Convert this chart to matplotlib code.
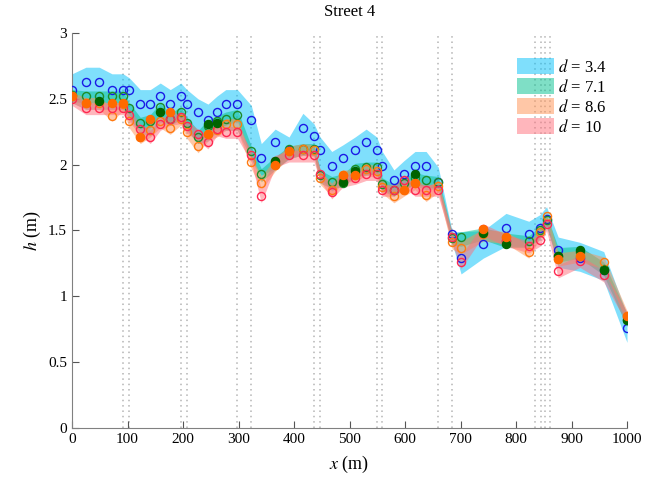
import matplotlib
matplotlib.use('Agg')
import matplotlib.pyplot as plt
import numpy as np
from matplotlib.ticker import FuncFormatter

plt.rcParams['font.family'] = ['Liberation Serif', 'DejaVu Serif']
plt.rcParams['mathtext.fontset'] = 'stix'

# %% data
x = [0, 25, 49, 72, 92, 103, 123, 141, 159, 177, 196, 207, 227, 245, 261, 277, 298, 323,
     341, 366, 391, 416, 436, 447, 468, 488, 510, 530, 549, 559, 580, 598, 618, 638, 660,
     685, 701, 741, 782, 823, 843, 855, 876, 915, 958, 1000]

# intersections (dotted lines)
x_cross = [92, 103, 196, 207, 298, 323, 436, 447, 549, 559, 660, 685, 835, 845, 852, 861]

labels = ['3.4', '7.1', '8.6', '10']

h_d34 = [2.57, 2.63, 2.63, 2.57, 2.57, 2.57, 2.46, 2.46, 2.52, 2.46, 2.52, 2.46, 2.40, 2.34,
         2.40, 2.46, 2.46, 2.34, 2.05, 2.17, 2.11, 2.28, 2.22, 2.11, 1.99, 2.05, 2.11, 2.17,
         2.11, 1.99, 1.88, 1.93, 1.99, 1.99, 1.87, 1.47, 1.29, 1.40, 1.52, 1.47, 1.52, 1.59,
         1.35, 1.29, 1.20, 0.76]
h_d71 = [2.53, 2.52, 2.52, 2.52, 2.52, 2.43, 2.32, 2.33, 2.44, 2.35, 2.40, 2.32, 2.21, 2.29,
         2.33, 2.35, 2.38, 2.10, 1.93, 2.01, 2.12, 2.12, 2.12, 1.92, 1.87, 1.86, 1.97, 1.98,
         1.98, 1.85, 1.81, 1.86, 1.90, 1.88, 1.87, 1.44, 1.45, 1.49, 1.42, 1.42, 1.50, 1.58,
         1.31, 1.34, 1.21, 0.82]
h_d86 = [2.52, 2.47, 2.47, 2.37, 2.46, 2.33, 2.21, 2.26, 2.33, 2.28, 2.35, 2.25, 2.14, 2.23,
         2.26, 2.31, 2.31, 2.02, 1.86, 2.00, 2.10, 2.12, 2.11, 1.90, 1.81, 1.92, 1.92, 1.97,
         1.95, 1.83, 1.76, 1.81, 1.86, 1.77, 1.84, 1.41, 1.37, 1.47, 1.45, 1.34, 1.49, 1.61,
         1.28, 1.31, 1.26, 0.85]
h_d10 = [2.50, 2.43, 2.43, 2.43, 2.43, 2.38, 2.27, 2.21, 2.31, 2.35, 2.36, 2.29, 2.23, 2.17,
         2.27, 2.25, 2.25, 2.07, 1.76, 2.03, 2.07, 2.07, 2.07, 1.93, 1.79, 1.88, 1.90, 1.93,
         1.93, 1.81, 1.81, 1.88, 1.81, 1.81, 1.81, 1.45, 1.26, 1.51, 1.43, 1.38, 1.43, 1.55,
         1.19, 1.27, 1.16, 0.84]

# envelopes
hi_d34 = [2.69, 2.74, 2.74, 2.69, 2.69, 2.66, 2.57, 2.57, 2.62, 2.57, 2.62, 2.57, 2.50, 2.46,
          2.52, 2.57, 2.57, 2.45, 2.16, 2.27, 2.21, 2.39, 2.31, 2.21, 2.10, 2.15, 2.21, 2.27,
          2.21, 2.10, 1.96, 2.03, 2.10, 2.10, 1.98, 1.49, 1.49, 1.50, 1.63, 1.57, 1.62, 1.68,
          1.45, 1.41, 1.34, 0.86]
lo_d34 = [2.47, 2.42, 2.42, 2.42, 2.42, 2.35, 2.24, 2.22, 2.32, 2.30, 2.34, 2.26, 2.16, 2.18,
          2.25, 2.26, 2.26, 2.04, 1.92, 1.97, 2.04, 2.08, 2.07, 1.90, 1.80, 1.86, 1.90, 1.93,
          1.93, 1.81, 1.77, 1.82, 1.84, 1.81, 1.82, 1.40, 1.17, 1.29, 1.38, 1.38, 1.43, 1.54,
          1.22, 1.19, 1.12, 0.65]
hi_d71 = [2.57, 2.56, 2.56, 2.56, 2.56, 2.47, 2.36, 2.38, 2.47, 2.39, 2.44, 2.36, 2.26, 2.34,
          2.37, 2.40, 2.42, 2.14, 1.97, 2.06, 2.14, 2.16, 2.16, 1.96, 1.91, 1.93, 2.01, 2.02,
          2.02, 1.90, 1.85, 1.90, 1.94, 1.92, 1.91, 1.48, 1.49, 1.52, 1.48, 1.46, 1.53, 1.62,
          1.37, 1.38, 1.26, 0.87]
lo_d71 = [2.48, 2.47, 2.47, 2.47, 2.47, 2.38, 2.27, 2.28, 2.37, 2.30, 2.35, 2.27, 2.16, 2.24,
          2.28, 2.30, 2.33, 2.05, 1.87, 1.96, 2.05, 2.07, 2.07, 1.86, 1.82, 1.83, 1.91, 1.92,
          1.93, 1.80, 1.76, 1.81, 1.85, 1.83, 1.82, 1.39, 1.38, 1.43, 1.37, 1.37, 1.45, 1.53,
          1.26, 1.29, 1.16, 0.77]
hi_d86 = [2.55, 2.51, 2.51, 2.44, 2.50, 2.38, 2.26, 2.31, 2.37, 2.33, 2.39, 2.29, 2.19, 2.27,
          2.30, 2.35, 2.35, 2.07, 1.91, 2.05, 2.14, 2.16, 2.15, 1.95, 1.86, 1.96, 1.96, 2.01,
          1.99, 1.88, 1.81, 1.86, 1.90, 1.83, 1.88, 1.46, 1.42, 1.51, 1.49, 1.39, 1.53, 1.64,
          1.33, 1.35, 1.30, 0.89]
lo_d86 = [2.47, 2.42, 2.42, 2.33, 2.41, 2.28, 2.16, 2.21, 2.28, 2.23, 2.30, 2.20, 2.09, 2.18,
          2.21, 2.26, 2.26, 1.97, 1.81, 1.95, 2.05, 2.07, 2.06, 1.85, 1.76, 1.87, 1.87, 1.92,
          1.90, 1.78, 1.71, 1.76, 1.81, 1.72, 1.79, 1.36, 1.32, 1.42, 1.40, 1.29, 1.44, 1.56,
          1.23, 1.26, 1.21, 0.80]
hi_d10 = [2.54, 2.47, 2.47, 2.47, 2.47, 2.42, 2.31, 2.26, 2.35, 2.39, 2.40, 2.33, 2.27, 2.22,
          2.31, 2.29, 2.29, 2.11, 1.81, 2.07, 2.11, 2.11, 2.11, 1.97, 1.84, 1.92, 1.94, 1.97,
          1.97, 1.85, 1.85, 1.92, 1.85, 1.85, 1.85, 1.49, 1.31, 1.55, 1.47, 1.42, 1.47, 1.59,
          1.24, 1.31, 1.20, 0.88]
lo_d10 = [2.45, 2.38, 2.38, 2.38, 2.38, 2.33, 2.22, 2.16, 2.26, 2.30, 2.31, 2.24, 2.18, 2.12,
          2.22, 2.20, 2.20, 2.02, 1.71, 1.98, 2.02, 2.02, 2.02, 1.88, 1.74, 1.83, 1.85, 1.88,
          1.88, 1.76, 1.76, 1.83, 1.76, 1.76, 1.76, 1.40, 1.21, 1.46, 1.38, 1.33, 1.38, 1.50,
          1.14, 1.22, 1.11, 0.79]

# filled markers
x_fg = [49, 159, 245, 261, 366, 488, 510, 618, 741, 782, 876, 915, 958, 1000]
h_fg = [2.48, 2.40, 2.31, 2.32, 2.03, 1.87, 1.95, 1.93, 1.48, 1.40, 1.31, 1.35, 1.20, 0.82]
x_fo = [0, 25, 72, 92, 123, 141, 177, 245, 366, 391, 488, 510, 598, 618, 741, 782, 876, 915, 1000]
h_fo = [2.52, 2.47, 2.47, 2.47, 2.21, 2.35, 2.40, 2.23, 2.00, 2.10, 1.92, 1.92, 1.81, 1.86,
        1.51, 1.45, 1.28, 1.31, 0.85]

# %% plot
fig = plt.figure(figsize=(6.56, 4.83), dpi=100)
ax = fig.add_axes([0.1098, 0.1139, 0.8460, 0.8178])

for xc in x_cross:
    ax.axvline(xc, color='#b4b4b4', linestyle=(0, (1, 2.5)), linewidth=1.1, zorder=1)

band_cols = ['#00c0fa', '#00c08e', '#ff9050', '#ff6e7a']
bands = [(lo_d34, hi_d34), (lo_d71, hi_d71), (lo_d86, hi_d86), (lo_d10, hi_d10)]
for (lo, hi), c, lab in zip(bands, band_cols, labels):
    ax.fill_between(x, lo, hi, color=c, alpha=0.5, linewidth=0, zorder=2,
                    label=r'$d$ = ' + lab)

mk_cols = ['#1a1ae6', '#1e8c28', '#ff7a10', '#ff2850']
for h, c in zip([h_d34, h_d71, h_d86, h_d10], mk_cols):
    ax.plot(x, h, 'o', mfc='none', mec=c, ms=5.8, mew=1.0, zorder=3)
ax.plot(x_fg, h_fg, 'o', color='#006400', ms=5.8, zorder=4)
ax.plot(x_fo, h_fo, 'o', color='#ff6a00', ms=5.8, zorder=4)

ax.set_xlim(0, 1000)
ax.set_ylim(0, 3)
ax.set_xticks(np.arange(0, 1001, 100))
ax.set_yticks(np.arange(0, 3.01, 0.5))
ax.yaxis.set_major_formatter(FuncFormatter(lambda v, p: '%g' % v))
ax.tick_params(direction='in', length=5, labelsize=11, color='#555555', top=False, right=False)
for s in ['top', 'right']:
    ax.spines[s].set_visible(False)
for s in ['left', 'bottom']:
    ax.spines[s].set_color('#808080')

ax.set_xlabel(r'$x$ (m)', fontsize=13, labelpad=6)
ax.set_ylabel(r'$h$ (m)', fontsize=13, labelpad=4)
ax.set_title('Street 4', fontsize=12, pad=12)

ax.legend(loc='upper right', bbox_to_anchor=(0.99, 0.975), frameon=False, fontsize=12,
          handlelength=2.2, handleheight=1.1, labelspacing=0.15, handletextpad=0.25)

fig.savefig('out.png', dpi=100)
